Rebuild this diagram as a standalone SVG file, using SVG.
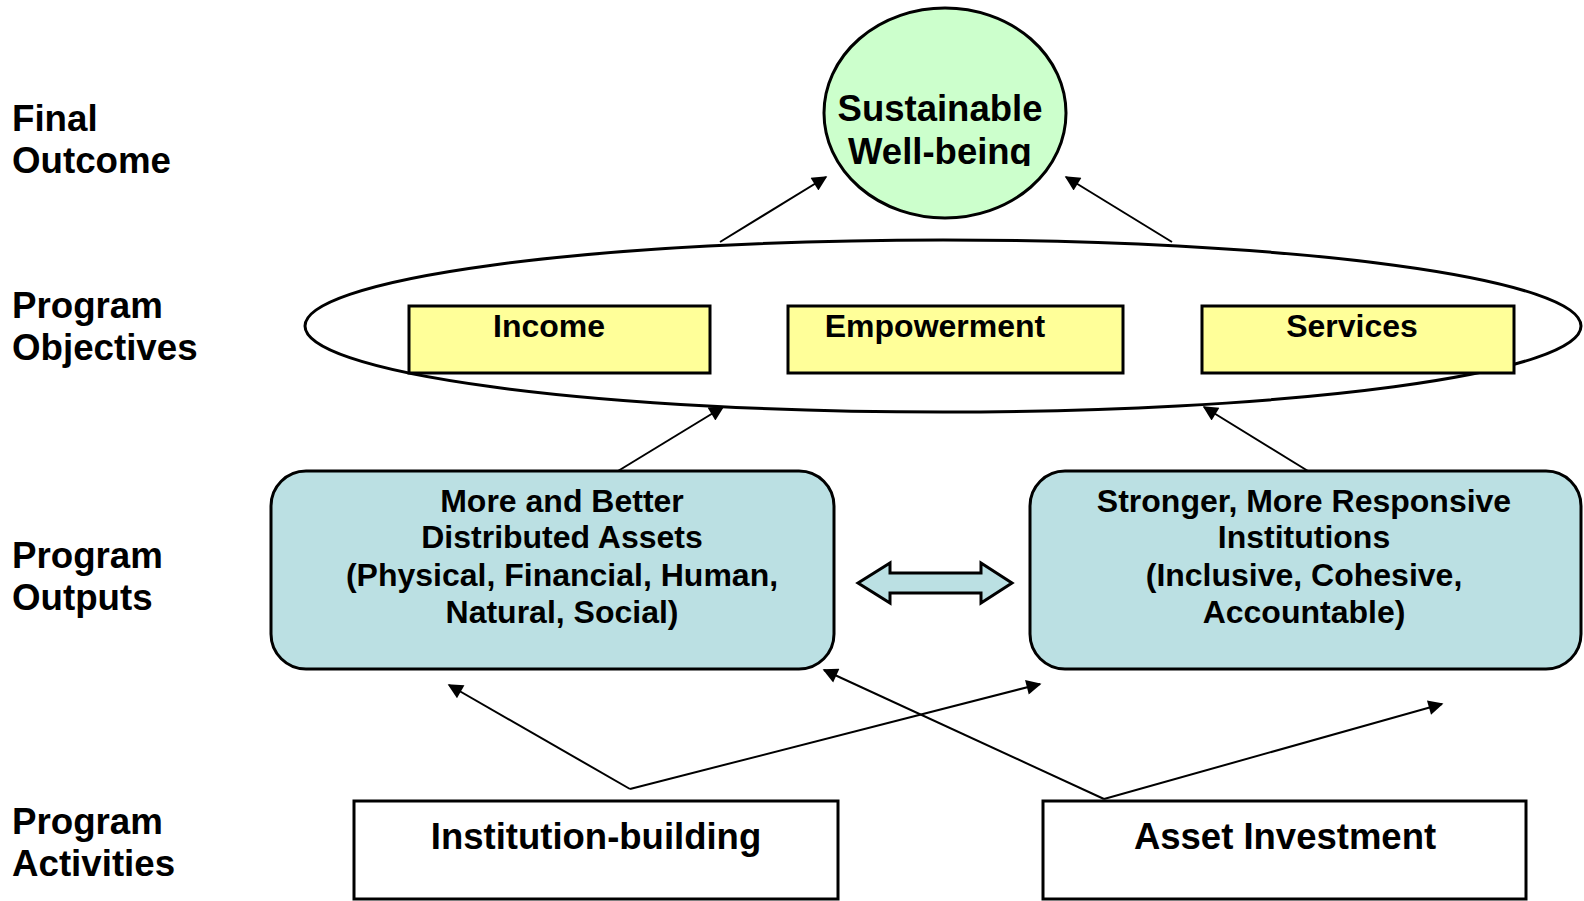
<svg xmlns="http://www.w3.org/2000/svg" width="1584" height="901" viewBox="0 0 1584 901">
<style>
text{font-family:"Liberation Sans",Arial,sans-serif;font-weight:bold;fill:#000}
.lbl{font-size:36.7px}
.big{font-size:36.5px;text-anchor:middle}
.mid{font-size:32px;text-anchor:middle}
.shape{stroke:#000;stroke-width:3}
.conn{stroke:#000;stroke-width:2;fill:none;marker-end:url(#ah)}
</style>
<defs>
<marker id="ah" viewBox="0 0 10 10" refX="9" refY="5" markerWidth="20" markerHeight="15" markerUnits="userSpaceOnUse" orient="auto">
<path d="M0,0 L10,5 L0,10 z" fill="#000"/>
</marker>
<clipPath id="circClip"><rect x="800" y="0" width="300" height="166"/></clipPath>
</defs>
<rect width="1584" height="901" fill="#fff"/>

<g id="labels">
<text class="lbl" x="12" y="131">Final</text>
<text class="lbl" x="12" y="173">Outcome</text>
<text class="lbl" x="12" y="318">Program</text>
<text class="lbl" x="12" y="360">Objectives</text>
<text class="lbl" x="12" y="568">Program</text>
<text class="lbl" x="12" y="610">Outputs</text>
<text class="lbl" x="12" y="834">Program</text>
<text class="lbl" x="12" y="876">Activities</text>
</g>

<g id="objectives-ellipse">
<ellipse class="shape" cx="943" cy="326" rx="638" ry="86" fill="#fff"/>
</g>

<g id="wellbeing">
<ellipse class="shape" cx="945" cy="113" rx="121" ry="105" fill="#ccffcc"/>
<g clip-path="url(#circClip)">
<text class="big" x="940" y="121">Sustainable</text>
<text class="big" x="940" y="164">Well-being</text>
</g>
</g>

<g id="income">
<rect class="shape" x="409" y="306" width="301" height="67" fill="#ffff99"/>
<text class="mid" x="549" y="337">Income</text>
</g>
<g id="empowerment">
<rect class="shape" x="788" y="306" width="335" height="67" fill="#ffff99"/>
<text class="mid" x="935" y="337">Empowerment</text>
</g>
<g id="services">
<rect class="shape" x="1202" y="306" width="312" height="67" fill="#ffff99"/>
<text class="mid" x="1352" y="337">Services</text>
</g>

<g id="assets">
<rect class="shape" x="271" y="471" width="563" height="198" rx="35" ry="35" fill="#bbe0e3"/>
<text class="mid" x="562" y="512">More and Better</text>
<text class="mid" x="562" y="548">Distributed Assets</text>
<text class="mid" x="562" y="586">(Physical, Financial, Human,</text>
<text class="mid" x="562" y="623">Natural, Social)</text>
</g>
<g id="institutions">
<rect class="shape" x="1030" y="471" width="551" height="198" rx="35" ry="35" fill="#bbe0e3"/>
<text class="mid" x="1304" y="512">Stronger, More Responsive</text>
<text class="mid" x="1304" y="548">Institutions</text>
<text class="mid" x="1304" y="586">(Inclusive, Cohesive,</text>
<text class="mid" x="1304" y="623">Accountable)</text>
</g>

<g id="double-arrow">
<path class="shape" d="M858,583 L890,563 L890,573 L981,573 L981,563 L1012,583 L981,603 L981,593 L890,593 L890,603 Z" fill="#bbe0e3"/>
</g>

<g id="institution-building">
<rect class="shape" x="354" y="801" width="484" height="98" fill="#fff"/>
<text class="big" x="596" y="849">Institution-building</text>
</g>
<g id="asset-investment">
<rect class="shape" x="1043" y="801" width="483" height="98" fill="#fff"/>
<text class="big" x="1285" y="849">Asset Investment</text>
</g>

<g id="connectors">
<line class="conn" x1="720" y1="242" x2="826" y2="177"/>
<line class="conn" x1="1172" y1="242" x2="1066" y2="177"/>
<line class="conn" x1="618" y1="471" x2="723" y2="407"/>
<line class="conn" x1="1308" y1="471" x2="1204" y2="407"/>
<line class="conn" x1="630" y1="789" x2="449" y2="685"/>
<line class="conn" x1="630" y1="789" x2="1040" y2="684"/>
<line class="conn" x1="1104" y1="799" x2="824" y2="670"/>
<line class="conn" x1="1104" y1="799" x2="1442" y2="704"/>
</g>
</svg>
